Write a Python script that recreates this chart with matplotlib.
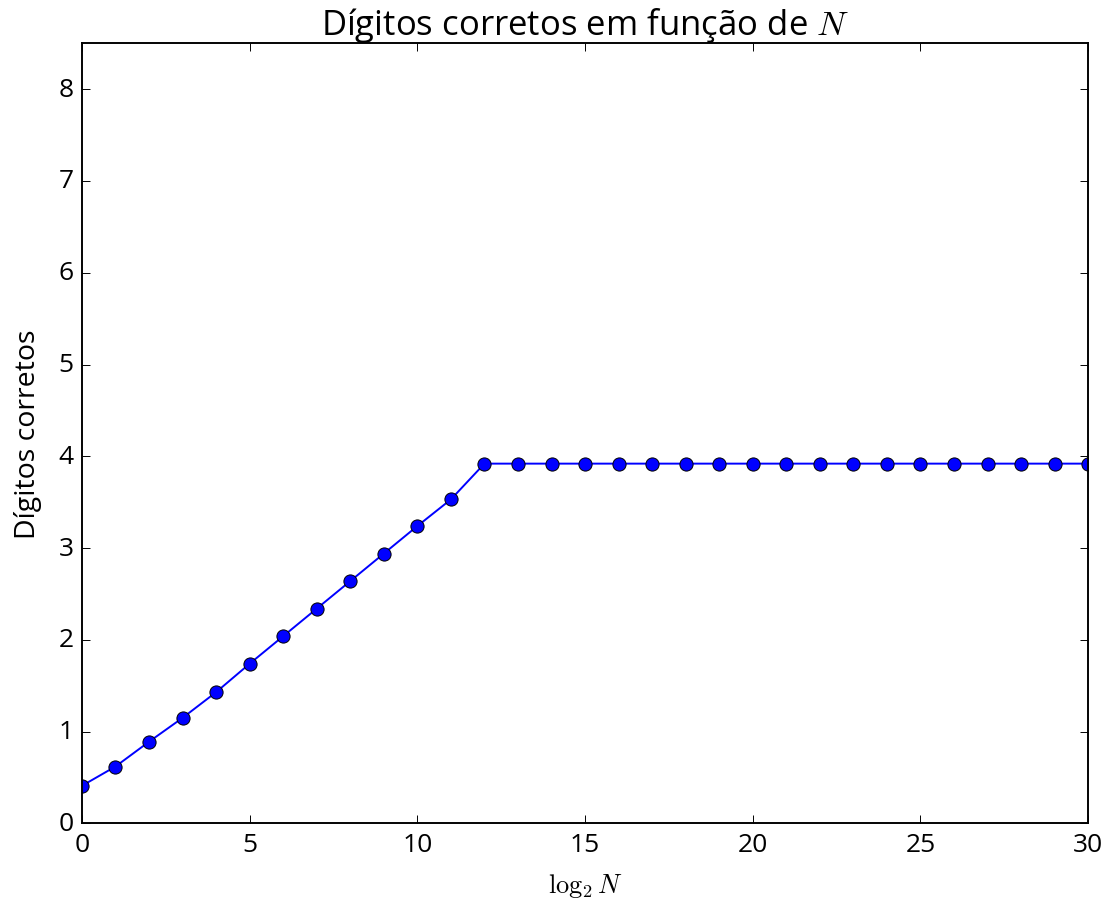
import matplotlib
matplotlib.use('Agg')
import matplotlib.pyplot as plt

# data
log2_n = list(range(0, 31))
digitos = [0.41, 0.62, 0.89, 1.15, 1.43, 1.74, 2.04, 2.34, 2.64, 2.94, 3.24, 3.53] + [3.92] * 19

plt.style.use('classic')
scale = 1.384
plt.rcParams['font.family'] = ['Open Sans', 'DejaVu Sans']
plt.rcParams['font.size'] = 12 * scale
plt.rcParams['mathtext.fontset'] = 'cm'

fig = plt.figure(figsize=(11.07, 9.03), dpi=100, facecolor='white')
ax = fig.add_axes([0.074, 0.087, 0.909, 0.864])

ax.plot(log2_n, digitos, 'b-', marker='o', markersize=9.5,
        markeredgecolor='black', markeredgewidth=0.7, linewidth=1.4)

ax.set_xlim(0, 30)
ax.set_ylim(0, 8.5)
ax.set_xticks([0, 5, 10, 15, 20, 25, 30])
ax.set_yticks(range(0, 9))
ax.tick_params(direction='in', length=4 * scale, width=0.5 * scale,
               top=True, right=True, labelsize=19, pad=6)
for s in ax.spines.values():
    s.set_linewidth(1 * scale)

ax.set_title('Dígitos corretos em função de $N$', fontsize=25, pad=7)
ax.set_xlabel(r'$\log_2 N$', fontsize=19, labelpad=10)
ax.set_ylabel('Dígitos corretos', fontsize=20.5, labelpad=12)

fig.savefig('out.png', dpi=100, facecolor='white')
